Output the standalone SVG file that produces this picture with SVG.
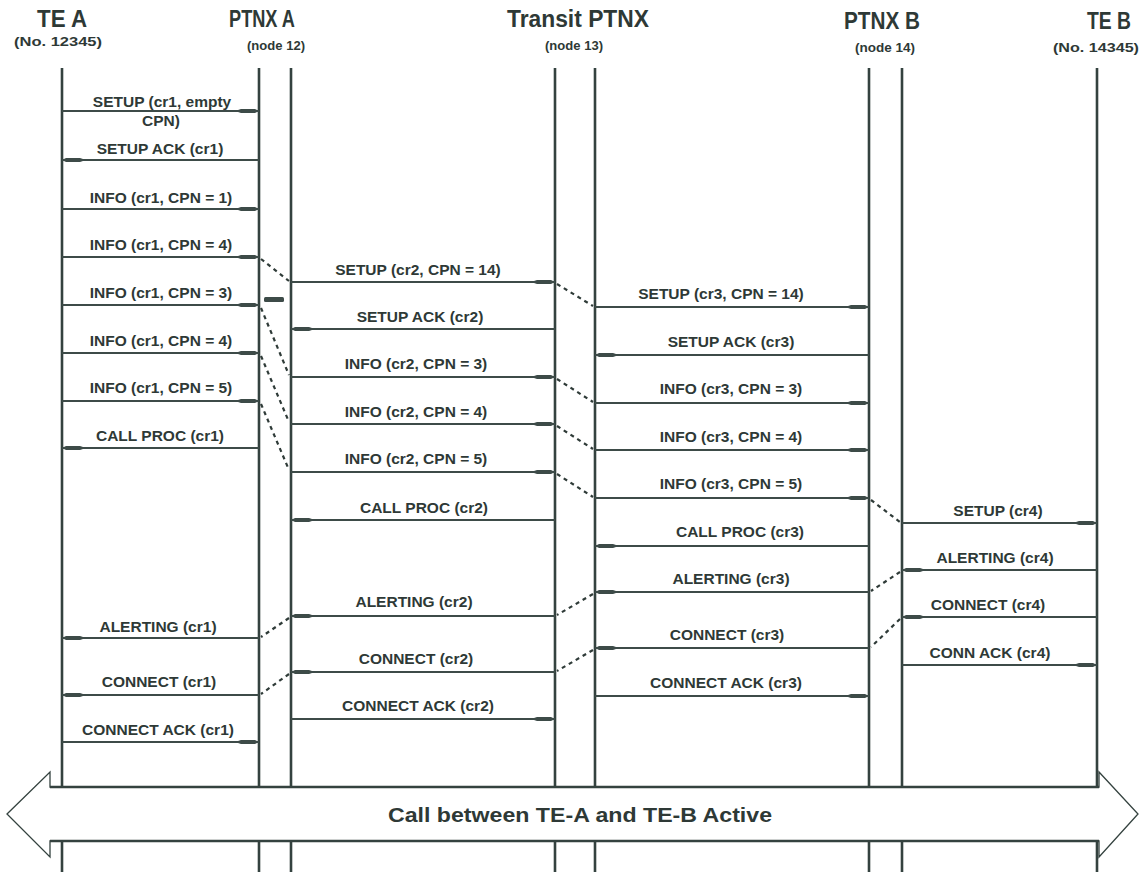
<svg xmlns="http://www.w3.org/2000/svg" width="1140" height="872" viewBox="0 0 1140 872">
<style>
.life{stroke:#34423f;stroke-width:2.6;fill:none}
.msg{stroke:#3d4b48;stroke-width:2;fill:none;marker-end:url(#ah)}
.dash{stroke:#2f3b38;stroke-width:2.2;stroke-dasharray:4 4;fill:none}
.lbl{font-family:"Liberation Sans",Arial,sans-serif;font-weight:bold;font-size:15.5px;fill:#2e3936;text-anchor:middle}
.hd{font-family:"Liberation Sans",Arial,sans-serif;font-weight:bold;font-size:23px;fill:#2e3936;text-anchor:middle}
.sub{font-family:"Liberation Sans",Arial,sans-serif;font-weight:bold;font-size:13px;fill:#2e3936;text-anchor:middle}
.band{font-family:"Liberation Sans",Arial,sans-serif;font-weight:bold;font-size:20px;fill:#2e3936;text-anchor:middle}
</style>
<defs>
<marker id="ah" markerUnits="userSpaceOnUse" markerWidth="24" markerHeight="7" refX="24" refY="3.5" orient="auto">
<path d="M0,3.5 L6,1.6 L20,1.4 L24,3.5 L20,5.6 L6,5.4 Z" fill="#3d4b48"/>
</marker>
</defs>
<rect width="1140" height="872" fill="#fff"/>

<g id="te-a">
<text class="hd" x="62" y="27" textLength="50" lengthAdjust="spacingAndGlyphs">TE A</text>
<text class="sub" x="58" y="46" textLength="88" lengthAdjust="spacingAndGlyphs">(No. 12345)</text>
<line class="life" x1="62" y1="68" x2="62" y2="787"/>
<line class="life" x1="62" y1="841" x2="62" y2="872"/>
</g>
<g id="ptnx-a">
<text class="hd" x="262" y="27" textLength="66" lengthAdjust="spacingAndGlyphs">PTNX A</text>
<text class="sub" x="276" y="50" textLength="58" lengthAdjust="spacingAndGlyphs">(node 12)</text>
<line class="life" x1="259" y1="68" x2="259" y2="787"/>
<line class="life" x1="291" y1="68" x2="291" y2="787"/>
<line class="life" x1="259" y1="841" x2="259" y2="872"/>
<line class="life" x1="291" y1="841" x2="291" y2="872"/>
</g>
<g id="transit-ptnx">
<text class="hd" x="578" y="27" textLength="142" lengthAdjust="spacingAndGlyphs">Transit PTNX</text>
<text class="sub" x="574" y="50" textLength="58" lengthAdjust="spacingAndGlyphs">(node 13)</text>
<line class="life" x1="555" y1="68" x2="555" y2="787"/>
<line class="life" x1="595" y1="68" x2="595" y2="787"/>
<line class="life" x1="555" y1="841" x2="555" y2="872"/>
<line class="life" x1="595" y1="841" x2="595" y2="872"/>
</g>
<g id="ptnx-b">
<text class="hd" x="882" y="29" textLength="76" lengthAdjust="spacingAndGlyphs">PTNX B</text>
<text class="sub" x="885" y="52" textLength="60" lengthAdjust="spacingAndGlyphs">(node 14)</text>
<line class="life" x1="869" y1="68" x2="869" y2="787"/>
<line class="life" x1="902" y1="68" x2="902" y2="787"/>
<line class="life" x1="869" y1="841" x2="869" y2="872"/>
<line class="life" x1="902" y1="841" x2="902" y2="872"/>
</g>
<g id="te-b">
<text class="hd" x="1109" y="29" textLength="44" lengthAdjust="spacingAndGlyphs">TE B</text>
<text class="sub" x="1096" y="52" textLength="86" lengthAdjust="spacingAndGlyphs">(No. 14345)</text>
<line class="life" x1="1097" y1="68" x2="1097" y2="787"/>
<line class="life" x1="1097" y1="841" x2="1097" y2="872"/>
</g>

<g id="connectors">
<line class="msg" x1="62" y1="111" x2="259" y2="111"/>
<text class="lbl" x="162" y="107">SETUP (cr1, empty</text>
<text class="lbl" x="161" y="126">CPN)</text>
<line class="msg" x1="259" y1="160" x2="62" y2="160"/>
<text class="lbl" x="160" y="154">SETUP ACK (cr1)</text>
<line class="msg" x1="62" y1="209" x2="259" y2="209"/>
<text class="lbl" x="161" y="203">INFO (cr1, CPN = 1)</text>
<line class="msg" x1="62" y1="257" x2="259" y2="257"/>
<text class="lbl" x="161" y="250">INFO (cr1, CPN = 4)</text>
<line class="msg" x1="62" y1="305" x2="259" y2="305"/>
<text class="lbl" x="161" y="298">INFO (cr1, CPN = 3)</text>
<line class="msg" x1="62" y1="353" x2="259" y2="353"/>
<text class="lbl" x="161" y="346">INFO (cr1, CPN = 4)</text>
<line class="msg" x1="62" y1="401" x2="259" y2="401"/>
<text class="lbl" x="161" y="393">INFO (cr1, CPN = 5)</text>
<line class="msg" x1="259" y1="448" x2="62" y2="448"/>
<text class="lbl" x="160" y="441">CALL PROC (cr1)</text>
<line class="msg" x1="259" y1="638" x2="62" y2="638"/>
<text class="lbl" x="158" y="632">ALERTING (cr1)</text>
<line class="msg" x1="259" y1="695" x2="62" y2="695"/>
<text class="lbl" x="159" y="687">CONNECT (cr1)</text>
<line class="msg" x1="62" y1="742" x2="259" y2="742"/>
<text class="lbl" x="158" y="735">CONNECT ACK (cr1)</text>

<line class="msg" x1="291" y1="282" x2="555" y2="282"/>
<text class="lbl" x="418" y="275">SETUP (cr2, CPN = 14)</text>
<line class="msg" x1="555" y1="329" x2="291" y2="329"/>
<text class="lbl" x="420" y="322">SETUP ACK (cr2)</text>
<line class="msg" x1="291" y1="377" x2="555" y2="377"/>
<text class="lbl" x="416" y="369">INFO (cr2, CPN = 3)</text>
<line class="msg" x1="291" y1="424" x2="555" y2="424"/>
<text class="lbl" x="416" y="417">INFO (cr2, CPN = 4)</text>
<line class="msg" x1="291" y1="472" x2="555" y2="472"/>
<text class="lbl" x="416" y="464">INFO (cr2, CPN = 5)</text>
<line class="msg" x1="555" y1="520" x2="291" y2="520"/>
<text class="lbl" x="424" y="513">CALL PROC (cr2)</text>
<line class="msg" x1="555" y1="616" x2="291" y2="616"/>
<text class="lbl" x="414" y="607">ALERTING (cr2)</text>
<line class="msg" x1="555" y1="672" x2="291" y2="672"/>
<text class="lbl" x="416" y="664">CONNECT (cr2)</text>
<line class="msg" x1="291" y1="719" x2="555" y2="719"/>
<text class="lbl" x="418" y="711">CONNECT ACK (cr2)</text>

<line class="msg" x1="595" y1="307" x2="869" y2="307"/>
<text class="lbl" x="721" y="299">SETUP (cr3, CPN = 14)</text>
<line class="msg" x1="869" y1="355" x2="595" y2="355"/>
<text class="lbl" x="731" y="347">SETUP ACK (cr3)</text>
<line class="msg" x1="595" y1="403" x2="869" y2="403"/>
<text class="lbl" x="731" y="394">INFO (cr3, CPN = 3)</text>
<line class="msg" x1="595" y1="450" x2="869" y2="450"/>
<text class="lbl" x="731" y="442">INFO (cr3, CPN = 4)</text>
<line class="msg" x1="595" y1="498" x2="869" y2="498"/>
<text class="lbl" x="731" y="489">INFO (cr3, CPN = 5)</text>
<line class="msg" x1="869" y1="546" x2="595" y2="546"/>
<text class="lbl" x="740" y="537">CALL PROC (cr3)</text>
<line class="msg" x1="869" y1="592" x2="595" y2="592"/>
<text class="lbl" x="731" y="584">ALERTING (cr3)</text>
<line class="msg" x1="869" y1="648" x2="595" y2="648"/>
<text class="lbl" x="727" y="640">CONNECT (cr3)</text>
<line class="msg" x1="595" y1="696" x2="869" y2="696"/>
<text class="lbl" x="726" y="688">CONNECT ACK (cr3)</text>

<line class="msg" x1="902" y1="523" x2="1097" y2="523"/>
<text class="lbl" x="998" y="516">SETUP (cr4)</text>
<line class="msg" x1="1097" y1="570" x2="902" y2="570"/>
<text class="lbl" x="995" y="563">ALERTING (cr4)</text>
<line class="msg" x1="1097" y1="617" x2="902" y2="617"/>
<text class="lbl" x="988" y="610">CONNECT (cr4)</text>
<line class="msg" x1="902" y1="665" x2="1097" y2="665"/>
<text class="lbl" x="990" y="658">CONN ACK (cr4)</text>

<line class="dash" x1="261" y1="259" x2="289" y2="281"/>
<line class="dash" x1="261" y1="308" x2="289" y2="375"/>
<line class="dash" x1="261" y1="356" x2="289" y2="422"/>
<line class="dash" x1="261" y1="404" x2="289" y2="470"/>
<line class="dash" x1="557" y1="284" x2="593" y2="306"/>
<line class="dash" x1="557" y1="379" x2="593" y2="402"/>
<line class="dash" x1="557" y1="426" x2="593" y2="449"/>
<line class="dash" x1="557" y1="474" x2="593" y2="497"/>
<line class="dash" x1="871" y1="500" x2="900" y2="522"/>
<line class="dash" x1="900" y1="572" x2="871" y2="591"/>
<line class="dash" x1="900" y1="619" x2="871" y2="647"/>
<line class="dash" x1="593" y1="594" x2="557" y2="615"/>
<line class="dash" x1="593" y1="650" x2="557" y2="671"/>
<line class="dash" x1="289" y1="618" x2="261" y2="637"/>
<line class="dash" x1="289" y1="674" x2="261" y2="694"/>
<rect x="264" y="297" width="20" height="5" rx="1.5" fill="#3d4b48"/>
</g>

<g id="active-call">
<polygon points="7,814 50,772 50,787 1099,787 1099,772 1138,814 1099,857 1099,841 50,841 50,857" fill="#fff" stroke="#34423f" stroke-width="1.3"/>
<line x1="50" y1="787" x2="1099" y2="787" stroke="#34423f" stroke-width="2.6"/>
<line x1="50" y1="841" x2="1099" y2="841" stroke="#34423f" stroke-width="2.6"/>
<text class="band" x="580" y="822" textLength="384" lengthAdjust="spacingAndGlyphs">Call between TE-A and TE-B Active</text>
</g>
</svg>
